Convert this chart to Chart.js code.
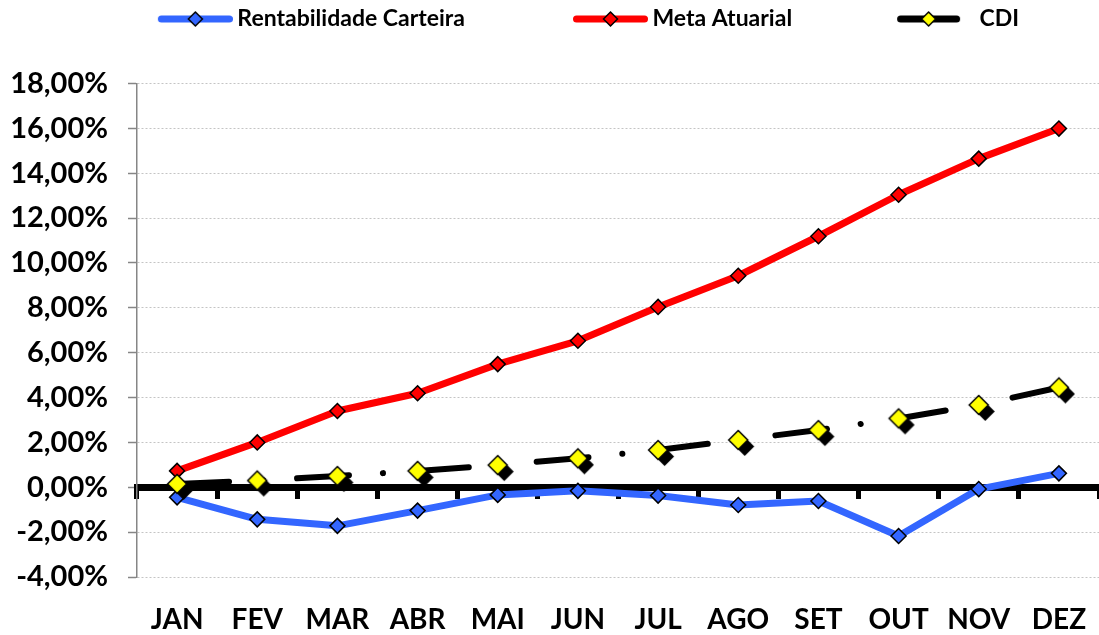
<!DOCTYPE html>
<html>
<head>
<meta charset="utf-8">
<script src="https://cdn.jsdelivr.net/npm/chart.js@4.4.1/dist/chart.umd.min.js"></script>
<style>
html,body{margin:0;padding:0;background:#ffffff;overflow:hidden;}
#wrap{width:1099px;height:635px;position:relative;overflow:hidden;}
#wrap canvas{display:block;}
</style>
</head>
<body>
<div id="wrap"><canvas id="c"></canvas></div>
<script>
// ---- data ----
const months = ['JAN','FEV','MAR','ABR','MAI','JUN','JUL','AGO','SET','OUT','NOV','DEZ'];
const seriesNames = ['Rentabilidade Carteira','Meta Atuarial','CDI'];
const rentabilidade = [-0.45,-1.43,-1.72,-1.04,-0.34,-0.16,-0.37,-0.79,-0.61,-2.17,-0.08,0.62];
const metaAtuarial = [0.73,2.00,3.40,4.19,5.49,6.53,8.04,9.43,11.19,13.04,14.65,15.99];
const cdi = [0.15,0.30,0.50,0.73,0.99,1.29,1.66,2.11,2.55,3.07,3.67,4.45];
const yMin = -4, yMax = 18, yStep = 2;

// ---- styles ----
const BLUE = '#3366ff', RED = '#ff0000', YELLOW = '#ffff00', BLACK = '#000000';
const FONT = 'Lato';
const LEG_FONT = 23, LEG_PAD = 30, LEG_W = 146;

function diamond(g, cx, cy, r) {
  g.beginPath();
  g.moveTo(cx, cy - r); g.lineTo(cx + r, cy); g.lineTo(cx, cy + r); g.lineTo(cx - r, cy);
  g.closePath();
}
function cdiMarker() {
  const c = document.createElement('canvas');
  c.width = 38; c.height = 38;
  const g = c.getContext('2d');
  diamond(g, 25.5, 25.5, 9.5); g.fillStyle = BLACK; g.fill();
  diamond(g, 19, 19, 9.5); g.fillStyle = YELLOW; g.fill();
  g.lineWidth = 1.5; g.strokeStyle = BLACK; g.stroke();
  return c;
}
function legendIcon(lineColor, fill, lineLen, rightGap) {
  const c = document.createElement('canvas');
  c.width = LEG_W + 14; c.height = 20;
  const g = c.getContext('2d');
  const x2 = c.width - rightGap, x1 = x2 - lineLen;
  g.lineCap = 'round'; g.lineWidth = 7; g.strokeStyle = lineColor;
  g.beginPath(); g.moveTo(x1 + 3.5, 10); g.lineTo(x2 - 3.5, 10); g.stroke();
  diamond(g, (x1 + x2) / 2, 10, 7); g.fillStyle = fill; g.fill();
  g.lineWidth = 1.5; g.strokeStyle = BLACK; g.stroke();
  return c;
}
const legendIcons = [
  legendIcon(BLUE, BLUE, 75, 0),
  legendIcon(RED, RED, 75, 0),
  legendIcon(BLACK, YELLOW, 63, 15)
];

const fmtPct = v => v.toFixed(2).replace('.', ',') + '%';

new Chart(document.getElementById('c'), {
  type: 'line',
  data: {
    labels: months,
    datasets: [
      {
        label: seriesNames[0], data: rentabilidade, order: 2,
        borderColor: BLUE, borderWidth: 7, borderJoinStyle: 'round', tension: 0,
        pointStyle: 'rectRot', pointRadius: 7.5, pointBackgroundColor: BLUE,
        pointBorderColor: BLACK, pointBorderWidth: 1.5
      },
      {
        label: seriesNames[1], data: metaAtuarial, order: 1,
        borderColor: RED, borderWidth: 7, borderJoinStyle: 'round', tension: 0,
        pointStyle: 'rectRot', pointRadius: 7.5, pointBackgroundColor: RED,
        pointBorderColor: BLACK, pointBorderWidth: 1.5
      },
      {
        label: seriesNames[2], data: cdi, order: 0,
        borderColor: BLACK, borderWidth: 6, borderCapStyle: 'round', borderJoinStyle: 'round',
        borderDash: [52, 34, 0.1, 34], tension: 0,
        pointStyle: cdiMarker(), pointRadius: 9
      }
    ]
  },
  options: {
    responsive: true, maintainAspectRatio: false, animation: false, events: [],
    devicePixelRatio: 1,
    layout: { autoPadding: false, padding: { top: 19 - LEG_FONT / 2 - LEG_PAD, left: 0, right: 0, bottom: 0 } },
    plugins: {
      tooltip: { enabled: false },
      legend: {
        position: 'top', align: 'center',
        labels: {
          usePointStyle: true, pointStyleWidth: LEG_W, padding: LEG_PAD,
          color: BLACK, font: { family: FONT, size: LEG_FONT, weight: 'bold' },
          generateLabels: (chart) => chart.data.datasets.map((ds, i) => ({
            text: ds.label, pointStyle: legendIcons[i], fillStyle: 'rgba(0,0,0,0)',
            strokeStyle: 'rgba(0,0,0,0)', lineWidth: 0, hidden: false, datasetIndex: i, fontColor: BLACK
          }))
        }
      }
    },
    scales: {
      x: {
        type: 'category', position: 'bottom', offset: true,
        grid: { display: false, drawTicks: false },
        border: { display: false },
        ticks: { color: BLACK, font: { family: FONT, size: 28, weight: 'bold' }, padding: 26, maxRotation: 0, autoSkip: false },
        afterFit: (s) => { s.height = 58; s.paddingLeft = 0; s.paddingRight = 0; }
      },
      xTop: {
        type: 'category', labels: months, position: 'top', offset: true,
        grid: { display: false, drawTicks: false },
        border: { display: false },
        ticks: { display: false },
        afterFit: (s) => { s.height = 43; s.paddingLeft = 0; s.paddingRight = 0; }
      },
      x2: {
        type: 'category', labels: months, position: { y: 0 }, offset: true,
        grid: { drawOnChartArea: false, drawTicks: true, tickLength: 8, tickWidth: 5, tickColor: BLACK, offset: true, tickBorderDash: [] },
        border: { display: true, width: 7, color: BLACK },
        ticks: { display: false }
      },
      y: {
        type: 'linear', min: yMin, max: yMax,
        ticks: { stepSize: yStep, callback: fmtPct, color: BLACK, padding: 20,
                 font: { family: FONT, size: 29, weight: 'bold' } },
        grid: { color: '#c4c4c4', lineWidth: 1, tickLength: 9, tickColor: '#868686', tickWidth: 1.5, tickBorderDash: [] },
        border: { display: true, color: '#868686', width: 1.5, dash: [2, 2] },
        afterFit: (s) => { s.width = 137; }
      }
    }
  }
});
</script>
</body>
</html>
